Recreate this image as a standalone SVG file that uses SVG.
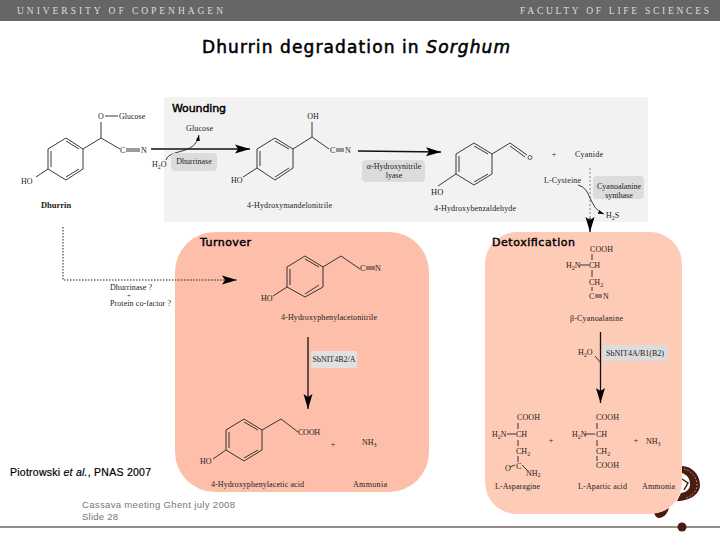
<svg xmlns="http://www.w3.org/2000/svg" width="720" height="540" viewBox="0 0 720 540">
<style>
text{font-family:"Liberation Serif","Times New Roman",serif;font-size:8px;fill:#222}
.b{font-weight:bold}
.m{text-anchor:middle}
.h{font-size:9.500px;fill:#ddd}
.c{font-family:"DejaVu Sans",sans-serif;fill:#000;font-size:11px;stroke:#000;stroke-width:.45}
.p{font-family:"Liberation Sans",Arial,sans-serif;font-size:10.500px;fill:#000;stroke:#000;stroke-width:.2}
.s{font-family:"Liberation Sans",Arial,sans-serif;font-size:9.500px;fill:#777}
.bond{fill:none;stroke:#222;stroke-width:.9}
.enz{fill:#dcdcdc}
.ar{fill:none;stroke:#111;stroke-width:1.300}
.thin{fill:none;stroke:#222;stroke-width:.9}
</style>
<defs>
<marker id="big" markerUnits="userSpaceOnUse" markerWidth="16" markerHeight="10" refX="15" refY="5" orient="auto"><path d="M0 .5L15 5L0 9.500L3 5Z" fill="#000"/></marker>
<marker id="tip" markerUnits="userSpaceOnUse" markerWidth="7" markerHeight="5" refX="6" refY="2.500" orient="auto"><path d="M0 .5L6 2.500L0 4.500Z" fill="#000"/></marker>
</defs>
<rect width="720" height="540" fill="#fff"/>
<g id="header">
<rect width="720" height="21" fill="#666"/>
<text class="h" x="17" y="13.500" textLength="206">UNIVERSITY OF COPENHAGEN</text>
<text class="h" x="520" y="13.500" textLength="189">FACULTY OF LIFE SCIENCES</text>
</g>
<text class="c" x="202" y="52.500" style="font-size:17px;stroke-width:.55" textLength="308">Dhurrin degradation in <tspan font-style="italic">Sorghum</tspan></text>
<g id="seal">
<path fill="#4a1c10" d="M682 466C692 466 700 475 700 485C700 494 690 501 677 501L681 493C687 492 690 489 690 484C690 478 687 475 682 473ZM654 513C659 513 665 511 669 507C668 514 663 518 659 518C657 518 655 516 654 513Z"/>
<path d="M684 469C692 471 697 478 697 485C697 491 692 496 686 498" fill="none" stroke="#c9a89a" stroke-width="1" stroke-dasharray="1.500 2"/>
<path d="M682 479L688 483L684 490" fill="none" stroke="#4a1c10" stroke-width="1.500"/>
</g>
<g id="panels">
<rect id="wounding-panel" x="164" y="97" width="484" height="125" fill="#f2f2f2"/>
<rect id="turnover-panel" x="175" y="232" width="254" height="260" rx="40" fill="#fdbfa9"/>
<rect id="detox-panel" x="485" y="232" width="197" height="282" rx="32" fill="#fecbb6"/>
</g>
<g id="footer-line"><path d="M0 527H720" stroke="#2a1a0a" stroke-width="1"/><circle cx="682" cy="527" r="4.500" fill="#4a1c10"/></g>

<g id="connectors">
<path class="ar" d="M151 149H250" marker-end="url(#big)"/>
<path class="ar" d="M358 151L441 152" marker-end="url(#big)"/>
<path class="thin" d="M166 160C170 148 195 156 199 135" marker-end="url(#tip)"/>
<path d="M590 168V218" fill="none" stroke="#bbb" stroke-width="2" stroke-dasharray="2 2"/>
<path class="ar" d="M590 218V232" marker-end="url(#big)" stroke-width="1"/>
<path class="thin" d="M578 185C592 188 588 208 604 214" marker-end="url(#tip)"/>
<path d="M63 227V280H237" fill="none" stroke="#222" stroke-width="1" stroke-dasharray="1.500 1.500" marker-end="url(#big)"/>
<path class="ar" d="M308 337V409" marker-end="url(#big)"/>
<path class="ar" d="M600.500 332V403" stroke-width="1" marker-end="url(#big)"/>
<path class="thin" d="M595 356L600 362"/>
</g>

<g id="dhurrin">
<path class="bond" d="M48 149L66 138L83 149V169L66 180L48 169ZM51 151V167M66 141L79 149M66 177L79 169M83 149L101 138L120 149M101 138V122M105 116H118M48 169L36 177M126 149H140M126 151H140"/>
<text x="101" y="119" class="m">O</text><text x="119" y="119">Glucose</text>
<text x="120" y="153">C</text><text x="141" y="153">N</text>
<text x="21" y="184">HO</text>
<text x="56" y="208" class="b m" style="font-size:8.500px">Dhurrin</text>
</g>
<g id="hydroxymandelonitrile">
<path class="bond" d="M257 149L275 138L293 149V168L275 180L257 168ZM260 151V166M275 141L289 149M275 177L289 168M293 149L312 137L329 149M312 137V122M257 168L243 177M336 149H344M336 151H344"/>
<text x="313" y="119" class="m">OH</text><text x="330" y="153">C</text><text x="345" y="153">N</text>
<text x="231" y="183">HO</text>
<text x="247" y="208" textLength="85">4-Hydroxymandelonitrile</text>
</g>
<g id="dhurrinase"><rect class="enz" x="171" y="153" width="46" height="18" rx="4"/><text x="194" y="164" class="m">Dhurrinase</text>
<text x="152" y="167">H<tspan font-size="6" dy="1.500">2</tspan><tspan dy="-1.500">O</tspan></text>
<text x="186" y="131" textLength="27">Glucose</text></g>
<g id="lyase"><rect class="enz" x="362" y="160" width="63" height="22" rx="4"/><text x="394" y="169" class="m">α-Hydroxynitrile</text><text x="394" y="178" class="m">lyase</text></g>
<g id="hydroxybenzaldehyde">
<path class="bond" d="M456 154L474 143L492 154V174L474 185L456 174ZM459 156V172M474 146L488 154M474 182L488 174M492 154L510 143L527 155M510 146L525 157M456 174L438 186"/>
<circle cx="530" cy="157.500" r="2" fill="none" stroke="#333" stroke-width=".8"/>
<text x="431" y="195" style="font-size:8.500px">HO</text>
<text x="434" y="211" textLength="82">4-Hydroxybenzaldehyde</text>
</g>
<g id="cyanide"><text x="554" y="157" class="m">+</text><text x="575" y="157" textLength="28">Cyanide</text></g>
<g id="cyanoalanine-synthase"><rect class="enz" x="593" y="176" width="51" height="23" rx="4"/><text x="619" y="189" class="m">Cyanoalanine</text><text x="619" y="198" class="m">synthase</text>
<text x="544" y="183" textLength="37">L-Cysteine</text>
<text x="606" y="218">H<tspan font-size="6" dy="1.500">2</tspan><tspan dy="-1.500">S</tspan></text></g>
<g id="cofactor-label">
<text x="110" y="290" textLength="42">Dhurrinase ?</text><text x="129" y="297.500" class="m" style="font-size:6px">+</text><text x="110" y="306" textLength="61">Protein co-factor ?</text>
</g>

<g id="turnover">
<text class="c" x="200" y="246" textLength="51">Turnover</text>
</g>
<g id="hydroxyphenylacetonitrile">
<path class="bond" d="M287 267L305 256L323 267V287L305 297L287 287ZM290 269V285M305 259L319 267M305 294L319 285M323 267L341 256L360 269M287 287L273 296M366 267H375M366 269H375"/>
<text x="360" y="271">C</text><text x="375" y="271">N</text><text x="261" y="301">HO</text>
<text x="281" y="320" textLength="96">4-Hydroxyphenylacetonitrile</text>
</g>
<g id="sbnit4b2"><rect x="311" y="351" width="46" height="17" fill="#e0e0e0" rx="1"/><text x="334" y="361.500" class="m">SbNIT4B2/A</text></g>
<g id="hydroxyphenylacetic-acid">
<path class="bond" d="M226 430L244 419L262 430V450L244 461L226 450ZM229 432V448M244 422L258 430M244 458L258 450M262 430L281 419L298 432M226 450L213 459"/>
<text x="298" y="435" textLength="22">COOH</text><text x="200" y="464">HO</text>
<text x="211" y="487" textLength="93">4-Hydroxyphenylacetic acid</text>
</g>
<g id="ammonia-1"><text x="333" y="447" class="m">+</text><text x="362" y="445">NH<tspan font-size="6" dy="1.500">3</tspan></text><text x="353" y="487" textLength="34">Ammonia</text></g>

<text class="p" x="10" y="476" textLength="141">Piotrowski <tspan font-style="italic">et al.</tspan>, PNAS 2007</text>
<text class="s" x="82" y="508" textLength="153">Cassava meeting Ghent july 2008</text>
<text class="s" x="82" y="520" textLength="36">Slide 28</text>

<g id="detoxification">
<text class="c" x="492" y="246" textLength="83">Detoxification</text>
</g>
<g id="cyanoalanine">
<path class="bond" d="M592 254V260M580 265H589M592 270V277M592 287V291M595 295H602M595 297H602"/>
<text x="590" y="252" textLength="23">COOH</text>
<text x="566" y="268">H<tspan font-size="6" dy="1.500">2</tspan><tspan dy="-1.500">N</tspan></text><text x="589" y="268">CH</text>
<text x="589" y="285">CH<tspan font-size="6" dy="1.500">2</tspan></text>
<text x="589" y="299">C</text><text x="603" y="299">N</text>
<text x="570" y="321" textLength="53">β-Cyanoalanine</text>
</g>
<g id="sbnit4a"><rect x="602" y="345" width="66" height="16" rx="2" fill="#dcdcdc"/><text x="635" y="356" class="m">SbNIT4A/B1(B2)</text>
<text x="578" y="355">H<tspan font-size="6" dy="1.500">2</tspan><tspan dy="-1.500">O</tspan></text></g>
<g id="asparagine">
<path class="bond" d="M518 423V429M507 434H516M518 440V446M518 456V462M510 467L515 465M522 465L527 470"/>
<text x="517" y="420" textLength="23">COOH</text>
<text x="492" y="437">H<tspan font-size="6" dy="1.500">2</tspan><tspan dy="-1.500">N</tspan></text><text x="516" y="437">CH</text>
<text x="516" y="454">CH<tspan font-size="6" dy="1.500">2</tspan></text>
<text x="505" y="471">O</text><text x="516" y="469">C</text>
<text x="526" y="476">NH<tspan font-size="6" dy="1">2</tspan></text>
<text x="495" y="489" textLength="45">L-Asparagine</text>
<text x="551" y="443" class="m">+</text>
</g>
<g id="aspartic-acid">
<path class="bond" d="M597 423V429M585 434H595M597 440V446M597 456V461"/>
<text x="596" y="420" textLength="23">COOH</text>
<text x="572" y="437">H<tspan font-size="6" dy="1.500">2</tspan><tspan dy="-1.500">N</tspan></text><text x="596" y="437">CH</text>
<text x="596" y="454">CH<tspan font-size="6" dy="1.500">2</tspan></text>
<text x="596" y="468" textLength="23">COOH</text>
<text x="578" y="489" textLength="49">L-Apartic acid</text>
</g>
<g id="ammonia-2"><text x="636" y="443" class="m">+</text><text x="646" y="444">NH<tspan font-size="6" dy="1.500">3</tspan></text><text x="642" y="489" textLength="33">Ammonia</text></g>
<text x="172" y="112" class="c" textLength="54">Wounding</text>
</svg>
